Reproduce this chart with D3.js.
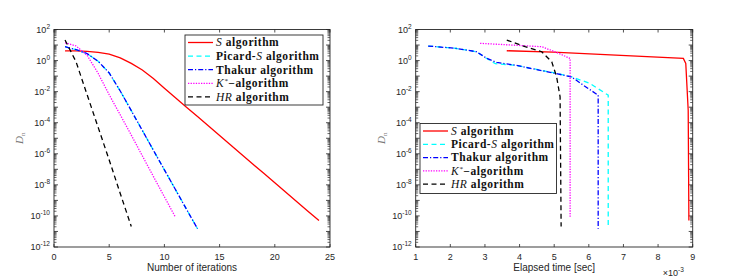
<!DOCTYPE html>
<html>
<head>
<meta charset="utf-8">
<script src="https://cdn.jsdelivr.net/npm/d3@7"></script>
<style>
  body { margin: 0; background: #fff; }
  text { font-family: "Liberation Sans", Arial, sans-serif; }
</style>
</head>
<body>
<div id="chart"></div>
<script>
// ---- data ----
const iterations = d3.range(1, 25);
const sIter = [4.27, 4.17, 3.89, 3.39, 2.63, 1.48, 0.66, 0.25, 0.071, 1.66e-2, 4.07e-3, 1.0e-3,
  2.5e-4, 6.2e-5, 1.5e-5, 3.7e-6, 9.1e-7, 2.2e-7, 5.5e-8, 1.35e-8, 3.3e-9, 8.1e-10, 2.0e-10, 5.0e-11];
const picardIter = [7.8, 5.0, 2.8, 0.9, 0.16, 1.1e-2, 6.0e-4, 3.2e-5, 1.7e-6, 9.3e-8, 5.0e-9, 2.7e-10, 1.5e-11];
const thakurIter = [7.8, 5.0, 2.8, 0.9, 0.16, 1.1e-2, 6.0e-4, 3.2e-5, 1.7e-6, 9.3e-8, 5.0e-9, 2.7e-10, 1.5e-11];
const kstarIter = [14, 8.7, 2.2, 0.15, 6.3e-3, 3.2e-4, 1.6e-5, 7.4e-7, 3.5e-8, 1.7e-9, 8.3e-11];
const hrIter = [21, 0.83, 6.3e-3, 5.0e-5, 4.0e-7, 2.8e-9, 2.1e-11];

// elapsed time (x 1e-3 sec) and D_n
const sTime = [3.63, 4.97, 8.73, 8.80, 8.87, 8.89];
const sTimeD = [4.3, 3.5, 1.38, 0.66, 6.3e-4, 5.0e-11];
const picardTime = [1.36, 2.14, 2.76, 3.0, 3.3, 3.87, 5.02, 5.5, 6.03, 6.56, 6.56];
const picardTimeD = [8.6, 6.2, 3.7, 1.6, 0.63, 0.5, 0.16, 0.089, 0.034, 5.9e-3, 1.9e-11];
const thakurTime = [1.36, 2.14, 2.76, 3.05, 3.34, 3.87, 5.02, 5.5, 5.84, 6.27, 6.27];
const thakurTimeD = [8.6, 6.2, 3.7, 1.4, 0.76, 0.51, 0.15, 0.089, 0.026, 5.9e-3, 1.5e-11];
const kstarTime = [2.86, 3.77, 4.64, 5.02, 5.46, 5.46];
const kstarTimeD = [12.9, 10, 7.8, 3.7, 1.38, 8.3e-11];
const hrTime = [3.63, 4.16, 4.64, 4.93, 5.07, 5.17, 5.2];
const hrTimeD = [21, 7.8, 3.7, 0.83, 0.089, 4.6e-3, 2.1e-11];

const yExponents = [2, 0, -2, -4, -6, -8, -10, -12];

// ---- styles for each series ----
const seriesStyle = [
  { key: 'S', color: '#ff0000', dash: null },
  { key: 'Picard', color: '#00ffff', dash: '5,3.5' },
  { key: 'Thakur', color: '#0000ff', dash: '5,2,1.2,2' },
  { key: 'Kstar', color: '#ff00ff', dash: '1.3,1.3' },
  { key: 'HR', color: '#000000', dash: '5,3.5' },
];

const W = 733, H = 279;
const svg = d3.select('#chart').append('svg')
  .attr('width', W).attr('height', H);
svg.append('rect').attr('width', W).attr('height', H).attr('fill', '#fff');

const axisColor = '#262626';

function drawPanel(cfg) {
  const x = d3.scaleLinear().domain(cfg.xDomain).range([cfg.left, cfg.right]);
  const y = d3.scaleLog().domain([1e-12, 1e2]).range([cfg.bottom, cfg.top]);
  const g = svg.append('g');

  // minor + major ticks on y (left and right, inward)
  const minor = [];
  for (let e = -12; e < 2; e++) {
    for (let m = 2; m <= 9; m++) minor.push(m * Math.pow(10, e));
  }
  const majors = d3.range(-12, 3).map((e) => Math.pow(10, e));
  minor.forEach((v) => {
    g.append('line').attr('x1', cfg.left).attr('x2', cfg.left + 2.5)
      .attr('y1', y(v)).attr('y2', y(v)).attr('stroke', axisColor).attr('stroke-width', 0.7);
    g.append('line').attr('x1', cfg.right).attr('x2', cfg.right - 2.5)
      .attr('y1', y(v)).attr('y2', y(v)).attr('stroke', axisColor).attr('stroke-width', 0.7);
  });
  majors.forEach((v) => {
    g.append('line').attr('x1', cfg.left).attr('x2', cfg.left + 4)
      .attr('y1', y(v)).attr('y2', y(v)).attr('stroke', axisColor).attr('stroke-width', 0.8);
    g.append('line').attr('x1', cfg.right).attr('x2', cfg.right - 4)
      .attr('y1', y(v)).attr('y2', y(v)).attr('stroke', axisColor).attr('stroke-width', 0.8);
  });

  // x ticks bottom and top
  cfg.xTicks.forEach((v) => {
    g.append('line').attr('x1', x(v)).attr('x2', x(v))
      .attr('y1', cfg.bottom).attr('y2', cfg.bottom - 3).attr('stroke', axisColor).attr('stroke-width', 0.8);
    g.append('line').attr('x1', x(v)).attr('x2', x(v))
      .attr('y1', cfg.top).attr('y2', cfg.top + 3).attr('stroke', axisColor).attr('stroke-width', 0.8);
    g.append('text').attr('x', x(v)).attr('y', cfg.bottom + 12.5)
      .attr('text-anchor', 'middle').attr('font-size', 9).attr('fill', axisColor)
      .text(v);
  });

  // y tick labels 10^k
  yExponents.forEach((e) => {
    const t = g.append('text').attr('x', cfg.left - 4).attr('y', y(Math.pow(10, e)) + 3)
      .attr('text-anchor', 'end').attr('font-size', 9).attr('fill', axisColor);
    t.append('tspan').text('10');
    t.append('tspan').attr('dy', -4).attr('font-size', 6.5).text(e);
  });

  // box
  g.append('rect').attr('x', cfg.left).attr('y', cfg.top)
    .attr('width', cfg.right - cfg.left).attr('height', cfg.bottom - cfg.top)
    .attr('fill', 'none').attr('stroke', axisColor).attr('stroke-width', 0.9);

  // x label
  g.append('text').attr('x', (cfg.left + cfg.right) / 2).attr('y', cfg.bottom + 24)
    .attr('text-anchor', 'middle').attr('font-size', 10).attr('fill', axisColor)
    .text(cfg.xLabel);

  // y label
  const yl = g.append('text')
    .attr('transform', `translate(${cfg.left - 31},${(cfg.top + cfg.bottom) / 2}) rotate(-90)`)
    .attr('text-anchor', 'middle').attr('fill', '#777')
    .style('font-family', '"Liberation Serif", "DejaVu Serif", serif');
  yl.append('tspan').attr('font-style', 'italic').attr('font-size', 11).text('D');
  yl.append('tspan').attr('font-size', 7).attr('dy', 2).text('n');

  // lines
  const clipId = `clip-${cfg.id}`;
  svg.append('clipPath').attr('id', clipId).append('rect')
    .attr('x', cfg.left).attr('y', cfg.top)
    .attr('width', cfg.right - cfg.left).attr('height', cfg.bottom - cfg.top);
  const line = d3.line().x((d) => x(d[0])).y((d) => y(d[1]));
  cfg.series.forEach((pts, i) => {
    const st = seriesStyle[i];
    g.append('path').datum(pts)
      .attr('clip-path', `url(#${clipId})`)
      .attr('d', line)
      .attr('fill', 'none')
      .attr('stroke', st.color)
      .attr('stroke-width', 1.3)
      .attr('stroke-dasharray', st.dash);
  });

  // legend
  const lg = cfg.legend;
  g.append('rect').attr('x', lg.x).attr('y', lg.y).attr('width', lg.w).attr('height', lg.h)
    .attr('fill', '#fff').attr('stroke', axisColor).attr('stroke-width', 0.9);
  seriesStyle.forEach((st, i) => {
    const yy = lg.y + 7.5 + i * lg.step;
    g.append('line').attr('x1', lg.x + 3).attr('x2', lg.x + 28)
      .attr('y1', yy).attr('y2', yy)
      .attr('stroke', st.color).attr('stroke-width', 1.3).attr('stroke-dasharray', st.dash);
    const t = g.append('text').attr('x', lg.x + 31).attr('y', yy + 3.8)
      .attr('font-size', 11.5).attr('fill', '#111').attr('letter-spacing', 0.55)
      .style('font-family', '"Liberation Serif", "DejaVu Serif", serif');
    legendParts[i].forEach((p) => {
      const s = t.append('tspan').text(p.t);
      if (p.i) s.attr('font-style', 'italic').attr('font-weight', 'normal');
      else s.attr('font-weight', 'bold');
      if (p.sup) s.attr('font-size', 7).attr('dy', -4);
      if (p.down) s.attr('dy', 4);
    });
  });

  if (cfg.xMultiplier) {
    const t = g.append('text').attr('x', cfg.right - 30).attr('y', cfg.bottom + 29)
      .attr('font-size', 9).attr('fill', axisColor);
    t.append('tspan').text('\u00d710');
    t.append('tspan').attr('dy', -4).attr('font-size', 6.5).text('-3');
  }
}

const legendParts = [
  [{ t: 'S', i: true }, { t: ' algorithm' }],
  [{ t: 'Picard-' }, { t: 'S', i: true }, { t: ' algorithm' }],
  [{ t: 'Thakur algorithm' }],
  [{ t: 'K', i: true }, { t: '*', i: true, sup: true }, { t: '\u2212algorithm', down: true }],
  [{ t: 'HR', i: true }, { t: ' algorithm' }],
];

drawPanel({
  id: 'iter',
  left: 54, right: 330, top: 29.5, bottom: 247,
  xDomain: [0, 25], xTicks: [0, 5, 10, 15, 20, 25],
  xLabel: 'Number of iterations',
  series: [
    sIter.map((v, i) => [iterations[i], v]),
    picardIter.map((v, i) => [iterations[i], v]),
    thakurIter.map((v, i) => [iterations[i], v]),
    kstarIter.map((v, i) => [iterations[i], v]),
    hrIter.map((v, i) => [iterations[i], v]),
  ],
  legend: { x: 185, y: 35, w: 138, h: 70, step: 13.6 },
});

drawPanel({
  id: 'time',
  left: 415.7, right: 692.7, top: 29.5, bottom: 247,
  xDomain: [1, 9], xTicks: [1, 2, 3, 4, 5, 6, 7, 8, 9],
  xLabel: 'Elapsed time [sec]',
  xMultiplier: true,
  series: [
    sTime.map((t, i) => [t, sTimeD[i]]),
    picardTime.map((t, i) => [t, picardTimeD[i]]),
    thakurTime.map((t, i) => [t, thakurTimeD[i]]),
    kstarTime.map((t, i) => [t, kstarTimeD[i]]),
    hrTime.map((t, i) => [t, hrTimeD[i]]),
  ],
  legend: { x: 420, y: 123.5, w: 136.5, h: 70, step: 13.3 },
});
</script>
</body>
</html>
